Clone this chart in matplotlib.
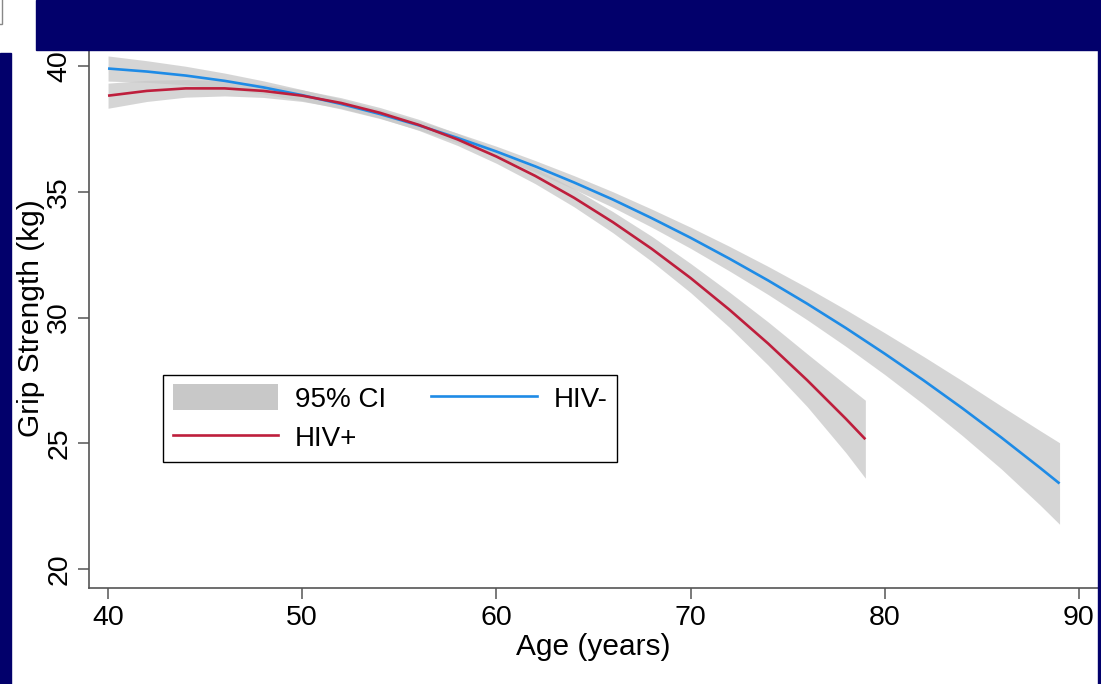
import numpy as np
import matplotlib
matplotlib.use("Agg")
import matplotlib.pyplot as plt
from matplotlib.patches import Rectangle, Patch
from matplotlib.lines import Line2D

plt.rcParams['font.family'] = ['Liberation Sans', 'DejaVu Sans']

# HIV- fitted grip strength
age_neg = [40, 42, 44, 46, 48, 50, 52, 54, 56, 58, 60, 62, 64, 66, 68, 70,
           72, 74, 76, 78, 80, 82, 84, 86, 88, 89]
grip_neg = [39.90, 39.78, 39.62, 39.41, 39.15, 38.84, 38.49, 38.09, 37.64,
            37.14, 36.60, 36.01, 35.37, 34.69, 33.95, 33.17, 32.34, 31.47,
            30.55, 29.58, 28.56, 27.50, 26.39, 25.23, 24.02, 23.40]
ci_neg = [0.50, 0.43, 0.37, 0.31, 0.26, 0.22, 0.20, 0.18, 0.18, 0.19, 0.21,
          0.23, 0.27, 0.31, 0.36, 0.42, 0.49, 0.56, 0.64, 0.73, 0.83, 0.95,
          1.09, 1.25, 1.48, 1.62]

# HIV+ fitted grip strength
age_pos = [40, 42, 44, 46, 48, 50, 52, 54, 56, 58, 60, 62, 64, 66, 68, 70,
           72, 74, 76, 78, 79]
grip_pos = [38.82, 39.01, 39.11, 39.11, 39.01, 38.82, 38.53, 38.14, 37.66,
            37.08, 36.40, 35.63, 34.76, 33.79, 32.73, 31.57, 30.31, 28.96,
            27.51, 25.97, 25.16]
ci_pos = [0.50, 0.42, 0.35, 0.30, 0.26, 0.23, 0.21, 0.21, 0.22, 0.24, 0.27,
          0.31, 0.36, 0.42, 0.50, 0.58, 0.70, 0.86, 1.05, 1.35, 1.55]

x_ticks = [40, 50, 60, 70, 80, 90]
y_ticks = [20, 25, 30, 35, 40]

navy = '#02006b'
band = '#c8c8c8'
blue = '#1e8be6'
red = '#be1e3c'

fig = plt.figure(figsize=(11.01, 6.84), dpi=100)
ax = fig.add_axes([89 / 1101, 1 - 588 / 684, 1009 / 1101, 540 / 684])

g = np.array(grip_neg); c = np.array(ci_neg)
ax.fill_between(age_neg, g - c, g + c, color=band, alpha=0.75, lw=0)
g2 = np.array(grip_pos); c2 = np.array(ci_pos)
ax.fill_between(age_pos, g2 - c2, g2 + c2, color=band, alpha=0.75, lw=0)
ax.plot(age_neg, grip_neg, color=blue, lw=1.9, solid_capstyle='butt')
ax.plot(age_pos, grip_pos, color=red, lw=1.9, solid_capstyle='butt')

ax.set_xlim(39.02, 90.98)
ax.set_ylim(19.245, 40.716)
ax.set_xticks(x_ticks)
ax.set_yticks(y_ticks)
for s in ['top', 'right']:
    ax.spines[s].set_visible(False)
for s in ['left', 'bottom']:
    ax.spines[s].set_color('#555555')
    ax.spines[s].set_linewidth(1.2)
ax.tick_params(length=8, width=1.1, color='#555555', labelsize=20.5, pad=4)
for lab in ax.get_yticklabels():
    lab.set_rotation(90)
    lab.set_va('center')
ax.set_xlabel('Age (years)', fontsize=21.5, labelpad=2)
ax.set_ylabel('Grip Strength (kg)', fontsize=21.5, labelpad=1)

handles = [Patch(facecolor=band, edgecolor='none'),
           Line2D([], [], color=red, lw=1.9),
           Line2D([], [], color=blue, lw=1.9)]
leg = ax.legend(handles, ['95% CI', 'HIV+', 'HIV-'], ncol=2, loc='lower left',
                bbox_to_anchor=(0.0733, 0.2333, 0.45, 0.1667), mode='expand',
                fontsize=20, frameon=True, fancybox=False, framealpha=1,
                edgecolor='black', handlelength=3.8, handleheight=1.05,
                labelspacing=0.4, borderpad=0.35, columnspacing=1.6,
                handletextpad=0.6, borderaxespad=0)
leg.get_frame().set_linewidth(1.0)

# navy slide frame
fig.add_artist(Rectangle((36 / 1101, 1 - 50 / 684), 1, 50 / 684,
                         transform=fig.transFigure, color=navy, zorder=10))
fig.add_artist(Rectangle((0, 0), 11 / 1101, 1 - 53 / 684,
                         transform=fig.transFigure, color=navy, zorder=10))
fig.add_artist(Rectangle((1098 / 1101, 0), 3 / 1101, 1,
                         transform=fig.transFigure, color=navy, zorder=10))
fig.add_artist(Rectangle((-10 / 1101, 1 - 24 / 684), 12 / 1101, 30 / 684,
                         transform=fig.transFigure, facecolor='none',
                         edgecolor='#888888', lw=1, zorder=10))

fig.savefig('out.png', dpi=100)
